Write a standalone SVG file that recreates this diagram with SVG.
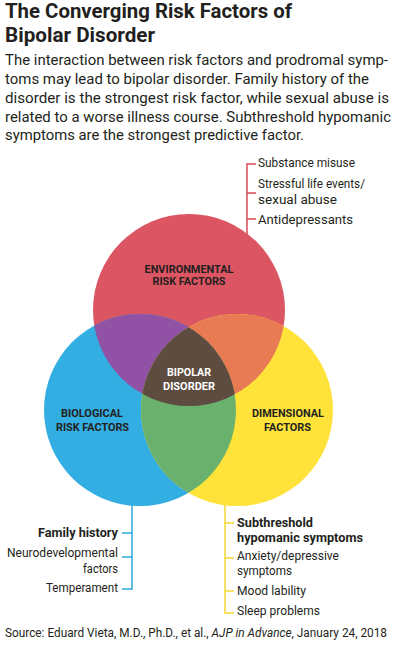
<svg xmlns="http://www.w3.org/2000/svg" width="400" height="654" viewBox="0 0 400 654">
<style>
text{font-family:Roboto,"Liberation Sans",sans-serif;fill:#231F20}
.t{font-size:20px;font-weight:bold}
.b{font-size:15.2px}
.l{font-size:12.5px}
.lb{font-size:12.5px;font-weight:bold}
.c{font-size:10.5px;font-weight:bold;text-anchor:middle}
.w{fill:#ffffff}
.s{font-size:12px}
.ln{fill:none;stroke-width:1.5}
</style>
<defs>
<clipPath id="cR"><circle cx="189" cy="310" r="96"/></clipPath>
<clipPath id="cB"><circle cx="140" cy="410" r="96"/></clipPath>
<clipPath id="cY"><circle cx="237" cy="410" r="96"/></clipPath>
</defs>
<rect width="400" height="654" fill="#ffffff"/>
<g id="title">
<text class="t" x="5" y="18" textLength="287" lengthAdjust="spacingAndGlyphs">The Converging Risk Factors of</text>
<text class="t" x="5" y="42" textLength="150" lengthAdjust="spacingAndGlyphs">Bipolar Disorder</text>
</g>
<g id="intro">
<text class="b" x="5" y="65" textLength="383" lengthAdjust="spacingAndGlyphs">The interaction between risk factors and prodromal symp-</text>
<text class="b" x="5" y="84" textLength="364" lengthAdjust="spacingAndGlyphs">toms may lead to bipolar disorder. Family history of the</text>
<text class="b" x="5" y="103" textLength="384" lengthAdjust="spacingAndGlyphs">disorder is the strongest risk factor, while sexual abuse is</text>
<text class="b" x="5" y="122" textLength="386" lengthAdjust="spacingAndGlyphs">related to a worse illness course. Subthreshold hypomanic</text>
<text class="b" x="5" y="140" textLength="299" lengthAdjust="spacingAndGlyphs">symptoms are the strongest predictive factor.</text>
</g>
<g id="connectors">
<path class="ln" stroke="#D94B5A" d="M247 240V164H256M247 193H256M247 219H256"/>
<path class="ln" stroke="#2FA8DD" d="M132 500V589H122M132 533H122M132 557H122"/>
<path class="ln" stroke="#F5D730" d="M225 500V613H234M225 523H234M225 558H234M225 591H234"/>
</g>
<g id="environmental">
<circle cx="189" cy="310" r="96" fill="#DC5563"/>
</g>
<g id="biological">
<circle cx="140" cy="410" r="96" fill="#33AEE2"/>
</g>
<g id="dimensional">
<circle cx="237" cy="410" r="96" fill="#FFE33A"/>
</g>
<g id="overlaps">
<circle cx="140" cy="410" r="96" fill="#9152A6" clip-path="url(#cR)"/>
<circle cx="237" cy="410" r="96" fill="#E97B54" clip-path="url(#cR)"/>
<circle cx="237" cy="410" r="96" fill="#6BB16E" clip-path="url(#cB)"/>
<g clip-path="url(#cR)"><circle cx="237" cy="410" r="96" fill="#5E4C40" clip-path="url(#cB)"/></g>
</g>
<g id="environmental-label">
<text class="c" x="189" y="273" textLength="89" lengthAdjust="spacingAndGlyphs">ENVIRONMENTAL</text>
<text class="c" x="189" y="285" textLength="73" lengthAdjust="spacingAndGlyphs">RISK FACTORS</text>
</g>
<g id="bipolar">
<text class="c w" x="189" y="376" textLength="44" lengthAdjust="spacingAndGlyphs">BIPOLAR</text>
<text class="c w" x="189" y="390" textLength="52" lengthAdjust="spacingAndGlyphs">DISORDER</text>
</g>
<g id="biological-label">
<text class="c" x="92" y="417" textLength="62" lengthAdjust="spacingAndGlyphs">BIOLOGICAL</text>
<text class="c" x="92.5" y="431" textLength="73" lengthAdjust="spacingAndGlyphs">RISK FACTORS</text>
</g>
<g id="dimensional-label">
<text class="c" x="288" y="417" textLength="72" lengthAdjust="spacingAndGlyphs">DIMENSIONAL</text>
<text class="c" x="287.5" y="431" textLength="47" lengthAdjust="spacingAndGlyphs">FACTORS</text>
</g>
<g id="environmental-list">
<text class="l" x="258" y="167" textLength="97" lengthAdjust="spacingAndGlyphs">Substance misuse</text>
<text class="l" x="258" y="188" textLength="107" lengthAdjust="spacingAndGlyphs">Stressful life events/</text>
<text class="l" x="258" y="204" textLength="79" lengthAdjust="spacingAndGlyphs">sexual abuse</text>
<text class="l" x="258" y="224" textLength="95" lengthAdjust="spacingAndGlyphs">Antidepressants</text>
</g>
<g id="biological-list">
<text class="lb" x="38" y="537" textLength="80" lengthAdjust="spacingAndGlyphs">Family history</text>
<text class="l" x="7" y="557" textLength="111" lengthAdjust="spacingAndGlyphs">Neurodevelopmental</text>
<text class="l" x="83" y="573" textLength="35" lengthAdjust="spacingAndGlyphs">factors</text>
<text class="l" x="46" y="592" textLength="72" lengthAdjust="spacingAndGlyphs">Temperament</text>
</g>
<g id="dimensional-list">
<text class="lb" x="237" y="527" textLength="76" lengthAdjust="spacingAndGlyphs">Subthreshold</text>
<text class="lb" x="237" y="542" textLength="126" lengthAdjust="spacingAndGlyphs">hypomanic symptoms</text>
<text class="l" x="237" y="560" textLength="102" lengthAdjust="spacingAndGlyphs">Anxiety/depressive</text>
<text class="l" x="237" y="575" textLength="55" lengthAdjust="spacingAndGlyphs">symptoms</text>
<text class="l" x="237" y="595" textLength="69" lengthAdjust="spacingAndGlyphs">Mood lability</text>
<text class="l" x="237" y="615" textLength="83" lengthAdjust="spacingAndGlyphs">Sleep problems</text>
</g>
<g id="source">
<text class="s" x="5" y="637" textLength="382" lengthAdjust="spacingAndGlyphs">Source: Eduard Vieta, M.D., Ph.D., et al., <tspan font-style="italic">AJP in Advance</tspan>, January 24, 2018</text>
</g>
</svg>
